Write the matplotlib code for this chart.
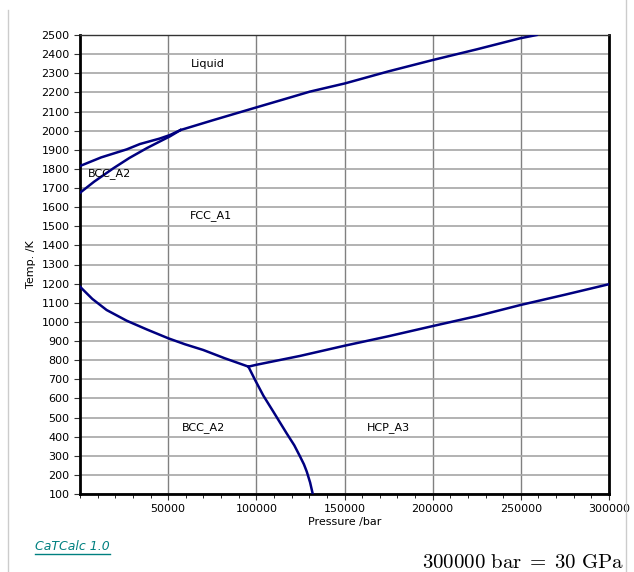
import matplotlib.pyplot as plt
from matplotlib.lines import Line2D
import numpy as np

# phase boundaries (pressure /bar, temperature /K)
liq_bcc_p = [0, 12000, 26500, 34000, 45000, 51000, 57000]
liq_bcc_t = [1815, 1860, 1902, 1930, 1958, 1977, 2003]

bcc_fcc_hi_p = [0, 8000, 18900, 28000, 37800, 45000, 51000, 57000]
bcc_fcc_hi_t = [1675, 1733, 1803, 1857, 1908, 1942, 1970, 2003]

liq_fcc_p = [57000, 75600, 100200, 115000, 130400, 150300, 175000, 200000, 225000, 249700, 259000]
liq_fcc_t = [2003, 2055, 2122, 2162, 2204, 2247, 2310, 2369, 2425, 2483, 2500]

bcc_fcc_lo_p = [0, 7000, 15100, 26500, 38000, 50100, 59500, 69900, 82000, 95500]
bcc_fcc_lo_t = [1184, 1120, 1062, 1006, 960, 914, 883, 853, 810, 766]

fcc_hcp_p = [95500, 100200, 124800, 149900, 175000, 200000, 225000, 249700, 275000, 300000]
fcc_hcp_t = [766, 776, 822, 875, 925, 978, 1030, 1088, 1142, 1197]

bcc_hcp_p = [95500, 99300, 104000, 109600, 117200, 121500, 124800, 127000, 128600, 130500, 132000]
bcc_hcp_t = [766, 696, 614, 531, 417, 355, 296, 255, 217, 160, 100]

labels = ["Liquid", "BCC_A2", "FCC_A1", "BCC_A2", "HCP_A3"]
label_p = [72600, 4500, 74300, 69800, 174700]
label_t = [2348, 1773, 1554, 450, 450]
label_ha = ["center", "left", "center", "center", "center"]

fig = plt.figure(figsize=(6.34, 5.72), dpi=100)
ax = fig.add_axes([80 / 634, 1 - 494 / 572, 529 / 634, 459 / 572])

line_color = "#000080"
for p, t in [(liq_bcc_p, liq_bcc_t), (bcc_fcc_hi_p, bcc_fcc_hi_t), (liq_fcc_p, liq_fcc_t),
             (bcc_fcc_lo_p, bcc_fcc_lo_t), (fcc_hcp_p, fcc_hcp_t), (bcc_hcp_p, bcc_hcp_t)]:
    ax.plot(p, t, color=line_color, lw=1.8, zorder=3, solid_joinstyle="round")

for s, p, t, ha in zip(labels, label_p, label_t, label_ha):
    ax.text(p, t, s, ha=ha, va="center", fontsize=8, family="DejaVu Sans")

ax.set_xlim(0, 300000)
ax.set_ylim(100, 2500)
ax.set_xticks(np.arange(50000, 300001, 50000))
ax.set_xticks(np.arange(0, 300001, 10000), minor=True)
ax.set_yticks(np.arange(100, 2501, 100))
ax.tick_params(axis="both", labelsize=8, direction="out", length=4, width=0.8, color="#333333")
ax.tick_params(axis="x", which="minor", length=3, width=0.6)
ax.grid(True, axis="x", which="major", color="#808080", lw=1)
ax.grid(True, axis="y", which="major", color="#a6a6a6", lw=1.2)
ax.set_axisbelow(True)

for side in ["left", "bottom", "right"]:
    ax.spines[side].set_linewidth(2)
    ax.spines[side].set_color("black")
ax.spines["top"].set_linewidth(1)
ax.spines["top"].set_color("#333333")

ax.set_xlabel("Pressure /bar", fontsize=8, labelpad=2)
ax.set_ylabel("Temp. /K", fontsize=8, labelpad=4)

# page borders
fig.add_artist(Line2D([8 / 634, 8 / 634], [0, 1 - 10 / 572], color="#cccccc", lw=1))
fig.add_artist(Line2D([626 / 634, 626 / 634], [0, 1], color="#cccccc", lw=1))

fig.text(35 / 634, 1 - 547 / 572, "CaTCalc 1.0", color="#008080", fontsize=9,
         family="DejaVu Sans", style="italic", va="center")
fig.add_artist(Line2D([35 / 634, 110 / 634], [1 - 554 / 572, 1 - 554 / 572], color="#008080", lw=1))

plt.rcParams["mathtext.fontset"] = "cm"
fig.text(624 / 634, 1 - 562 / 572, r"$\mathrm{300000\ bar\;=\;30\ GPa}$", fontsize=15,
         ha="right", va="center")

fig.savefig("out.png", dpi=100)
